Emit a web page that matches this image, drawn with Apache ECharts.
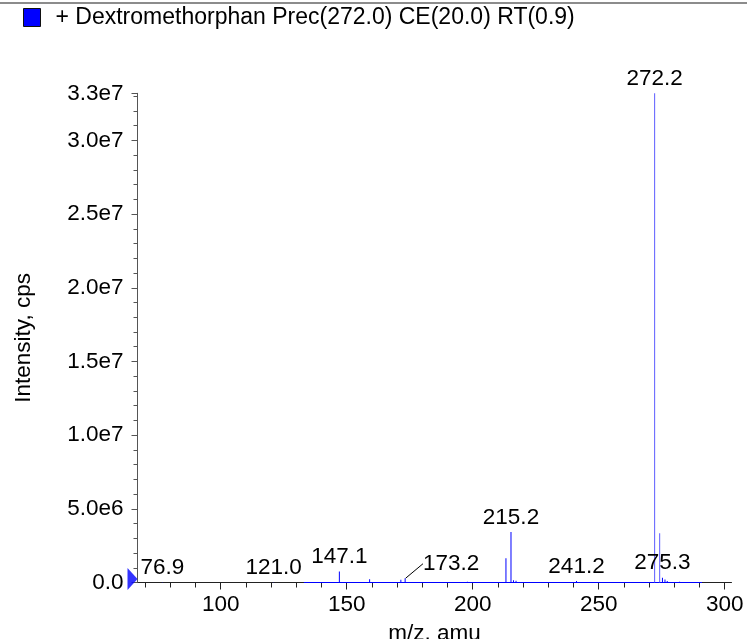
<!DOCTYPE html>
<html>
<head>
<meta charset="utf-8">
<script src="https://cdn.jsdelivr.net/npm/echarts@6/dist/echarts.min.js"></script>
<style>
html,body{margin:0;padding:0;background:#fff;}
#chart{width:747px;height:639px;}
</style>
</head>
<body>
<div id="chart"></div>
<script>
// ---- data ----
const seriesName = '+ Dextromethorphan Prec(272.0) CE(20.0) RT(0.9)';
const xRange = [67.0, 302.7];
const yRange = [0, 3.32e7];
const mz        = [76.9, 121.0, 147.1, 159.1, 171.5, 173.2, 197.9, 213.2, 215.2, 216.2, 217.2, 241.2, 272.2, 274.2, 275.3, 276.3, 277.2, 282.1];
const intensity = [2e4,  2e4,   7.4e5, 2.2e5, 1.8e5, 2.9e5, 5e4,   1.65e6, 3.42e6, 1.5e5, 1.2e5, 1e5,  3.32e7, 3.35e6, 3.3e5, 2e5,  1e5,   5e4];
const labelled  = [76.9, 121.0, 147.1, 173.2, 215.2, 241.2, 272.2, 275.3];
const movedLabel = 173.2;
const baselineTrace = [133, 291];
const xMajorTicks = [100, 150, 200, 250, 300];
const xMinorTicks = [70, 80, 90, 100, 110, 120, 130, 140, 150, 160, 170, 180, 190, 200, 210, 220, 230, 240, 250, 260, 270, 280, 290, 300];
const yMajorStep = 5e6, yMinorStep = 1e6;

const FONT = "'Liberation Sans', Arial, Helvetica, sans-serif";
const FS = 22.5;

const barData = mz.map((m, i) => {
  const item = { value: [m, intensity[i]] };
  if (m >= 270 && intensity[i] > 1e6) item.itemStyle = { color: '#5c5cff' };
  if (m === movedLabel) item.labelLine = { show: true, lineStyle: { color: '#000', width: 1 } };
  return item;
});

const chart = echarts.init(document.getElementById('chart'), null, { renderer: 'canvas' });
chart.setOption({
  animation: false,
  backgroundColor: '#fff',
  textStyle: { fontFamily: FONT },
  legend: {
    left: 23, top: 6, padding: 0,
    itemWidth: 17, itemHeight: 18, icon: 'rect',
    data: [seriesName],
    itemStyle: { borderColor: '#111', borderWidth: 1 },
    textStyle: { fontSize: 23, color: '#000', fontFamily: FONT, padding: [8, 0, 0, 10] }
  },
  graphic: [{
    type: 'line', shape: { x1: 0, y1: 3, x2: 747, y2: 3 },
    style: { stroke: '#666', lineWidth: 1.5 }
  }],
  grid: { left: 137.5, right: 15.5, top: 93.3, bottom: 56.5, containLabel: false, outerBoundsMode: 'none' },
  xAxis: [{
    type: 'value', min: xRange[0], max: xRange[1],
    name: 'm/z, amu', nameLocation: 'middle', nameGap: 40,
    nameTextStyle: { fontSize: FS, color: '#000', fontFamily: FONT },
    axisLine: { lineStyle: { color: '#222', width: 1 } },
    axisTick: { length: 7, lineStyle: { color: '#222' }, customValues: xMajorTicks },
    axisLabel: { fontSize: FS, color: '#000', margin: 11, fontFamily: FONT, customValues: xMajorTicks },
    splitLine: { show: false }
  }, {
    type: 'value', min: xRange[0], max: xRange[1], position: 'bottom',
    axisLine: { show: false },
    axisTick: { length: 5, lineStyle: { color: '#222' }, customValues: xMinorTicks },
    axisLabel: { show: false },
    splitLine: { show: false }
  }],
  yAxis: [{
    type: 'value', min: yRange[0], max: yRange[1], interval: yMajorStep,
    name: 'Intensity, cps', nameLocation: 'middle', nameGap: 102,
    nameTextStyle: { fontSize: FS, color: '#000', fontFamily: FONT },
    axisLine: { show: true, lineStyle: { color: '#555', width: 1 } },
    axisTick: { show: true, length: 6, lineStyle: { color: '#555' } },
    axisLabel: { fontSize: FS, color: '#000', margin: 14, fontFamily: FONT,
      formatter: v => (v === 0 ? '0.0' : v.toExponential(1).replace('+', '')) },
    splitLine: { show: false }
  }, {
    type: 'value', min: yRange[0], max: yRange[1], interval: yMinorStep, position: 'left', offset: 0,
    axisLine: { show: false },
    axisTick: { show: true, length: 4, lineStyle: { color: '#555' } },
    axisLabel: { show: false },
    splitLine: { show: false }
  }],
  series: [{
    name: 'baseline', type: 'line', xAxisIndex: 0, yAxisIndex: 0,
    data: baselineTrace.map(m => [m, 0]), symbol: 'none',
    lineStyle: { color: '#0000ff', width: 1 }, z: 3, silent: true
  }, {
    name: seriesName, type: 'bar', xAxisIndex: 0, yAxisIndex: 0,
    barWidth: 1, data: barData, z: 4,
    itemStyle: { color: '#0000ff' },
    label: {
      show: true, position: 'top', distance: 3, color: '#000', fontSize: FS, fontFamily: FONT,
      formatter: p => (labelled.indexOf(p.value[0]) >= 0 ? p.value[0].toFixed(1) : '')
    },
    labelLayout: p => (mz[p.dataIndex] === movedLabel ? { dx: 46, dy: 0 } : {}),
    labelLine: { show: false }
  }, {
    name: 'marker', type: 'scatter', xAxisIndex: 0, yAxisIndex: 0,
    data: [[xRange[0], yRange[0]]], symbol: 'triangle', symbolRotate: -90,
    symbolSize: [22, 10], symbolOffset: [-5, -3.5], clip: false, z: 5,
    itemStyle: { color: '#0000ff' }, silent: true
  }]
});
</script>
</body>
</html>
